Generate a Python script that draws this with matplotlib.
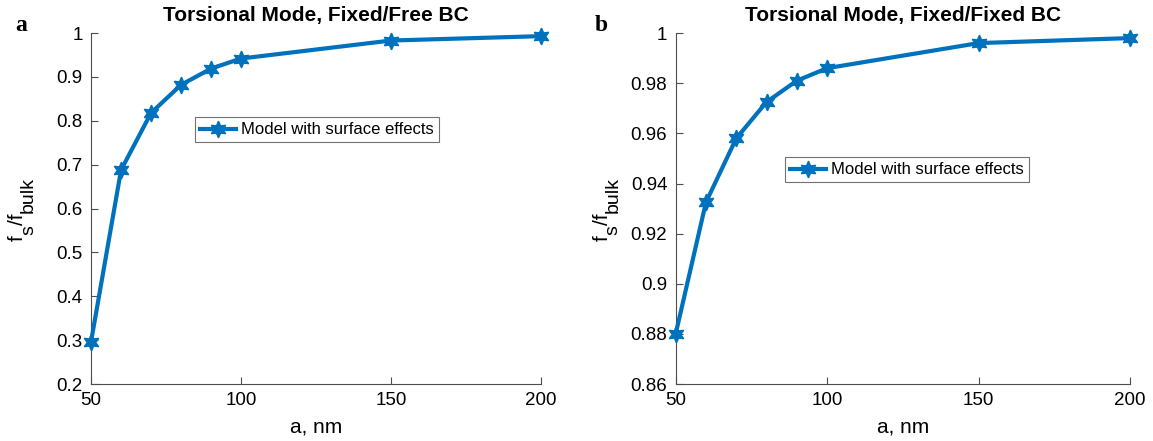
import matplotlib.pyplot as plt
from matplotlib.transforms import IdentityTransform

plt.rcParams['font.family'] = ['Liberation Sans', 'DejaVu Sans']

# Data
a_nm = [50, 60, 70, 80, 90, 100, 150, 200]
ratio_free = [0.297, 0.688, 0.818, 0.882, 0.919, 0.942, 0.983, 0.993]
ratio_fixed = [0.880, 0.9325, 0.958, 0.9725, 0.981, 0.986, 0.996, 0.998]

titles = ['Torsional Mode, Fixed/Free BC', 'Torsional Mode, Fixed/Fixed BC']
panel_letters = ['a', 'b']
yticks_free = [0.2, 0.3, 0.4, 0.5, 0.6, 0.7, 0.8, 0.9, 1.0]
yticks_fixed = [0.86, 0.88, 0.90, 0.92, 0.94, 0.96, 0.98, 1.0]
ytick_labels_free = ['0.2', '0.3', '0.4', '0.5', '0.6', '0.7', '0.8', '0.9', '1']
ytick_labels_fixed = ['0.86', '0.88', '0.9', '0.92', '0.94', '0.96', '0.98', '1']

blue = '#0072BD'
axis_gray = '#4d4d4d'

fig = plt.figure(figsize=(11.53, 4.41), dpi=100)
ax1 = fig.add_axes([0.079, 0.129, 0.390, 0.796])
ax2 = fig.add_axes([0.586, 0.129, 0.394, 0.796])

panels = [
    (ax1, ratio_free, yticks_free, ytick_labels_free, (0.2, 1.0), (0.502, 0.724)),
    (ax2, ratio_fixed, yticks_fixed, ytick_labels_fixed, (0.86, 1.0), (0.509, 0.610)),
]


def stacked_ylabel(ax, pieces, offset_px=68):
    # f_s/f_bulk drawn piece by piece so the subscripts keep a MATLAB-like size
    renderer = fig.canvas.get_renderer()
    bbox = ax.get_window_extent(renderer)
    x0 = bbox.x0 - offset_px
    texts = []
    y = 0.0
    for txt, size, dx in pieces:
        t = fig.text(x0 + dx, y, txt, rotation=90, rotation_mode='anchor',
                     ha='left', va='baseline', fontsize=size,
                     transform=IdentityTransform())
        ext = t.get_window_extent(renderer)
        texts.append((t, y))
        y = ext.y1 + 0.5
    shift = (bbox.y0 + bbox.y1) / 2 - y / 2
    for t, y0 in texts:
        px, _ = t.get_position()
        t.set_position((px, y0 + shift))


for i, (ax, vals, yt, ytl, ylim, leg_pos) in enumerate(panels):
    ax.plot(a_nm, vals, color=blue, linewidth=3, marker=(6, 1, 0),
            markersize=12, markerfacecolor=blue, markeredgecolor=blue,
            label='Model with surface effects', clip_on=False, zorder=3)
    ax.set_xlim(50, 200)
    ax.set_ylim(*ylim)
    ax.set_xticks([50, 100, 150, 200])
    ax.set_yticks(yt)
    ax.set_yticklabels(ytl)
    for side in ['top', 'right']:
        ax.spines[side].set_visible(False)
    for side in ['left', 'bottom']:
        ax.spines[side].set_color(axis_gray)
        ax.spines[side].set_linewidth(0.8)
    ax.tick_params(direction='in', length=5, width=0.8, color=axis_gray,
                   labelsize=13.5, labelcolor='black', pad=6)
    ax.set_xlabel('a, nm', fontsize=15, labelpad=6)
    ax.set_title(titles[i], fontsize=15, fontweight='bold', pad=9)
    leg = ax.legend(loc='center', bbox_to_anchor=leg_pos, fontsize=12,
                    frameon=True, fancybox=False, handlelength=2.2,
                    borderpad=0.3, handletextpad=0.3, borderaxespad=0)
    leg.get_frame().set_edgecolor(axis_gray)
    leg.get_frame().set_linewidth(0.8)

for ax in [ax1, ax2]:
    stacked_ylabel(ax, [('f', 15, 0), ('s', 14, 10), ('/f', 15, 0), ('bulk', 14, 10)])

fig.text(0.013, 0.93, panel_letters[0], family='Liberation Serif',
         fontweight='bold', fontsize=17)
fig.text(0.516, 0.93, panel_letters[1], family='Liberation Serif',
         fontweight='bold', fontsize=17)

fig.savefig('out.png', dpi=100)
